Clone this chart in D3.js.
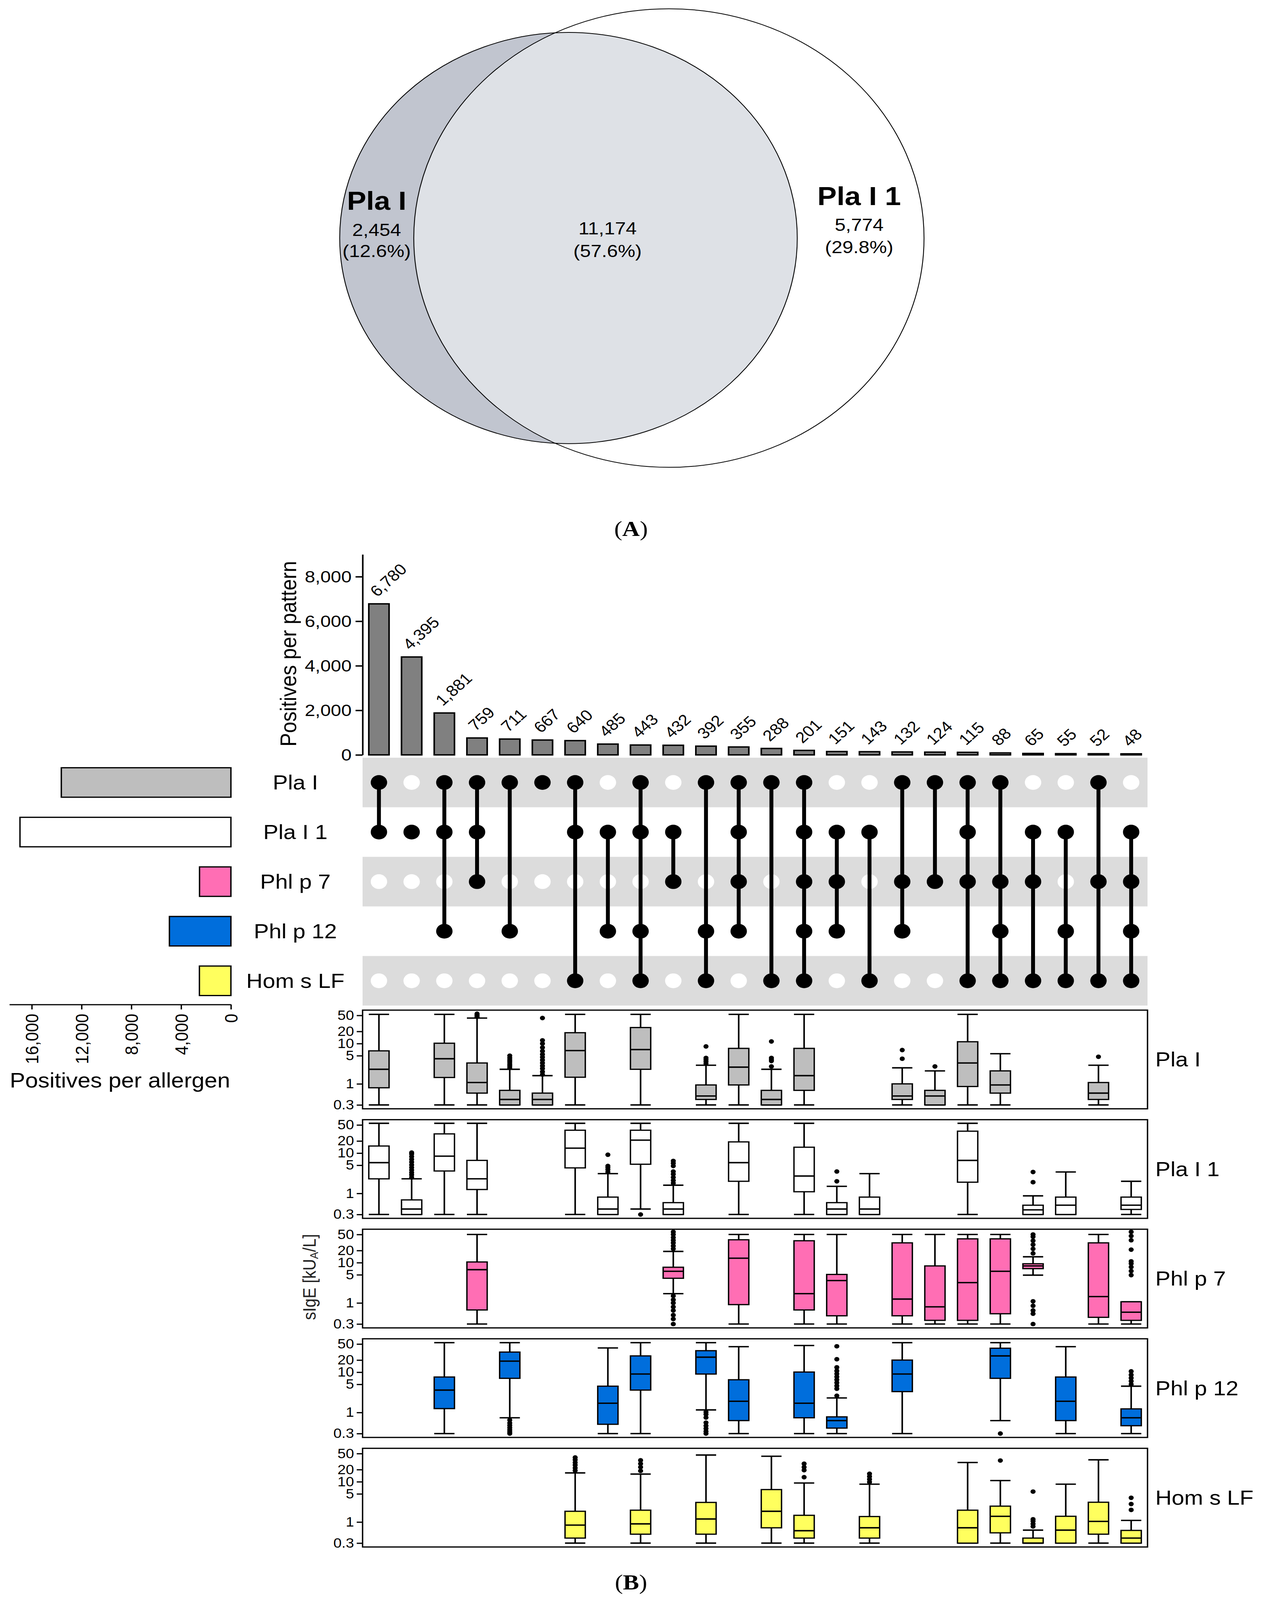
<!DOCTYPE html>
<html>
<head>
<meta charset="utf-8">
<script src="https://cdn.jsdelivr.net/npm/d3@7"></script>
<style>
  html, body { margin: 0; padding: 0; background: white; overflow: hidden; }
  #chart svg { display: block; }
</style>
</head>
<body>
<div id="chart"></div>
<script>
// ---------- data ----------
// Venn (A)
const vennNames = ["Pla I", "Pla I 1"];
const vennTotals = [13628, 16948];
const vennCounts = [2454, 11174, 5774]; // only Pla I, both, only Pla I 1
const vennPct = ["12.6%", "57.6%", "29.8%"];

// UpSet (B)
const sets = ["Pla I", "Pla I 1", "Phl p 7", "Phl p 12", "Hom s LF"];
const setSizes = [13628, 16948, 2522, 4942, 2530];
const setColours = ["#bebebe", "#ffffff", "#ff6eb4", "#006edc", "#ffff5e"];
const patternCounts = [6780, 4395, 1881, 759, 711, 667, 640, 485, 443, 432, 392, 355,
  288, 201, 151, 143, 132, 124, 115, 88, 65, 55, 52, 48];
// which sets (index into sets) make up each pattern
const patternSets = [[0, 1], [1], [0, 1, 3], [0, 1, 2], [0, 3], [0], [0, 1, 4], [1, 3],
  [0, 1, 3, 4], [1, 2], [0, 3, 4], [0, 1, 2, 3], [0, 4], [0, 1, 2, 3, 4], [1, 2, 3], [1, 4],
  [0, 2, 3], [0, 2], [0, 1, 2, 4], [0, 2, 3, 4], [1, 2, 4], [1, 3, 4], [0, 2, 4], [1, 2, 3, 4]];

const patternTicks = [0, 2000, 4000, 6000, 8000];
const sizeTicks = [0, 4000, 8000, 12000, 16000];
const sigeTicks = [0.3, 1, 5, 10, 20, 50];

// boxplots: [pattern no., low whisker, q1, median, q3, high whisker, outliers]
const boxPlaI = [
  [1, 0.3, 0.80, 2.3, 6.6, 53, []],
  [3, 0.3, 1.44, 4.2, 10.2, 53, []],
  [4, 0.3, 0.59, 1.08, 3.3, 43, [46, 49, 52, 55]],
  [5, 0.3, 0.3, 0.41, 0.69, 2.3, [2.5, 2.8, 3.1, 3.5, 3.9, 4.4, 5.0]],
  [6, 0.3, 0.3, 0.41, 0.59, 1.6, [1.7, 2.0, 2.4, 2.8, 3.3, 3.9, 4.6, 5.4, 6.5, 8, 10, 12, 43]],
  [7, 0.3, 1.46, 6.7, 18.6, 53, []],
  [9, 0.3, 2.3, 7.1, 25, 53, []],
  [11, 0.3, 0.41, 0.5, 0.94, 2.9, [3.2, 3.6, 4.0, 4.4, 8.5]],
  [12, 0.3, 0.94, 2.6, 7.6, 53, []],
  [13, 0.3, 0.3, 0.41, 0.69, 2.3, [2.7, 3.7, 4.0, 4.4, 11.3]],
  [14, 0.3, 0.69, 1.6, 7.6, 53, []],
  [17, 0.3, 0.41, 0.5, 1.0, 2.5, [4.2, 6.9]],
  [18, 0.3, 0.3, 0.5, 0.69, 2.1, [2.7]],
  [19, 0.3, 0.86, 3.3, 11.1, 53, []],
  [20, 0.3, 0.59, 0.94, 2.1, 5.6, []],
  [23, 0.3, 0.41, 0.59, 1.08, 2.9, [4.7]]
];
const boxPlaI1 = [
  [1, 0.3, 2.3, 5.8, 15, 55, []],
  [2, 0.3, 0.3, 0.41, 0.69, 2.3, [2.5, 2.9, 3.3, 3.8, 4.4, 5.1, 6, 7, 8.2, 9.5, 10.3]],
  [3, 0.3, 3.6, 8.4, 30, 55, []],
  [4, 0.3, 1.25, 2.3, 6.6, 55, []],
  [7, 0.3, 4.3, 13.3, 37, 55, []],
  [8, 0.3, 0.3, 0.41, 0.81, 3.1, [3.4, 3.9, 4.4, 4.8, 9.1]],
  [9, 0.41, 5.3, 21, 37, 55, [0.3]],
  [10, 0.3, 0.3, 0.41, 0.59, 1.6, [1.8, 2.1, 2.5, 3.0, 3.5, 4.8, 5.6, 6.4]],
  [12, 0.3, 2.0, 5.8, 19, 55, []],
  [14, 0.3, 1.1, 2.7, 14, 55, []],
  [15, 0.3, 0.3, 0.41, 0.59, 1.5, [2.0, 3.5]],
  [16, 0.3, 0.3, 0.41, 0.81, 3.1, []],
  [19, 0.3, 1.9, 6.6, 35, 55, []],
  [21, 0.3, 0.3, 0.39, 0.51, 0.87, [1.9, 3.4]],
  [22, 0.3, 0.3, 0.51, 0.81, 3.4, []],
  [24, 0.3, 0.4, 0.51, 0.81, 2.0, []]
];
const boxPhlp7 = [
  [4, 0.3, 0.67, 6.7, 10.4, 50, []],
  [10, 1.7, 4.1, 6.1, 7.7, 19, [22, 26, 31, 36, 42, 50, 58, 1.5, 1.2, 1.0, 0.8, 0.65, 0.5, 0.4, 0.3]],
  [12, 0.3, 0.91, 12.9, 37, 50, []],
  [14, 0.3, 0.67, 1.7, 35, 50, []],
  [15, 0.3, 0.48, 3.6, 5.1, 50, []],
  [17, 0.3, 0.48, 1.25, 31, 50, []],
  [18, 0.3, 0.37, 0.8, 8.3, 50, []],
  [19, 0.3, 0.37, 3.2, 39, 50, []],
  [20, 0.3, 0.54, 6.1, 39, 50, []],
  [21, 4.9, 7.1, 8.3, 9.4, 14, [17, 22, 28, 35, 44, 50, 1.1, 0.85, 0.65, 0.54, 0.3]],
  [23, 0.3, 0.44, 1.44, 31, 50, []],
  [24, 0.3, 0.37, 0.59, 1.07, 1.07, [4.9, 6.2, 7.8, 9.5, 10.8, 21, 36, 46, 58]]
];
const boxPhlp12 = [
  [3, 0.3, 1.25, 3.6, 7.6, 54, []],
  [5, 0.74, 7.05, 18.8, 31.6, 54, [0.65, 0.55, 0.48, 0.42, 0.37, 0.33, 0.3]],
  [8, 0.3, 0.51, 1.7, 4.5, 40, []],
  [9, 0.3, 3.6, 9.0, 25.4, 54, []],
  [11, 1.16, 9.0, 23.6, 34.2, 54, [1.03, 0.9, 0.75, 0.56, 0.47, 0.4, 0.34, 0.3]],
  [12, 0.3, 0.63, 1.9, 6.5, 43, []],
  [14, 0.3, 0.74, 1.7, 10.1, 46, []],
  [15, 0.3, 0.41, 0.63, 0.78, 2.3, [2.6, 3.9, 4.6, 5.5, 6.5, 7.7, 9.1, 10.8, 13.2, 21, 44]],
  [17, 0.3, 3.3, 9.0, 20, 54, []],
  [20, 0.63, 7.05, 25.4, 39.4, 54, [0.3]],
  [22, 0.3, 0.63, 1.9, 7.6, 43, []],
  [24, 0.3, 0.47, 0.74, 1.23, 4.5, [5.0, 6.0, 7.2, 8.6, 10.5]]
];
const boxHomsLF = [
  [7, 0.3, 0.4, 0.84, 1.85, 16.6, [19, 22, 26, 30, 35, 40]],
  [9, 0.3, 0.5, 0.9, 1.97, 15.5, [18.6, 23, 28, 34]],
  [11, 0.3, 0.5, 1.19, 3.07, 46, []],
  [13, 0.3, 0.72, 1.85, 6.4, 43, []],
  [14, 0.3, 0.4, 0.61, 1.47, 9.3, [13, 19.4, 23, 28]],
  [16, 0.3, 0.4, 0.72, 1.37, 8.7, [9.8, 11.5, 13.5, 15.8]],
  [19, 0.3, 0.3, 0.72, 1.97, 30, []],
  [20, 0.3, 0.54, 1.39, 2.48, 10.7, [33.6]],
  [21, 0.3, 0.3, 0.3, 0.4, 0.63, [0.78, 0.9, 1.05, 1.17, 5.7]],
  [22, 0.3, 0.3, 0.63, 1.39, 8.7, []],
  [23, 0.3, 0.5, 1.04, 3.1, 35, []],
  [24, 0.3, 0.3, 0.4, 0.62, 1.1, [2.0, 2.8, 4.0]]
];

// ---------- plot ----------
const W = 3230, H = 4557;
const FONT = "'Liberation Sans', Arial, Helvetica, sans-serif";
const fmt = d3.format(",");

// the real window can be shorter than asked for, so fit the figure into it
const vw = window.innerWidth || W;
const vh = window.innerHeight || H;

const svg = d3.select("#chart")
  .append("svg")
  .attr("width", vw)
  .attr("height", vh)
  .attr("viewBox", [0, 0, W, H])
  .attr("preserveAspectRatio", "none")
  .attr("font-family", FONT)
  .style("background", "white");

// ---- (A) venn ----
const rScale = d3.scaleSqrt().domain([0, d3.max(vennTotals)]).range([0, 653]);
const vx = [1455, 1712], vy = 678;

svg.append("defs").append("clipPath")
  .attr("id", "clipLeft")
  .append("circle")
  .attr("cx", vx[0]).attr("cy", vy).attr("r", rScale(vennTotals[0]));

svg.append("circle")
  .attr("cx", vx[0]).attr("cy", vy).attr("r", rScale(vennTotals[0]))
  .attr("fill", "#c1c5cf");
// overlap, lighter
svg.append("circle")
  .attr("cx", vx[1]).attr("cy", vy).attr("r", rScale(vennTotals[1]))
  .attr("fill", "#dee1e6")
  .attr("clip-path", "url(#clipLeft)");
svg.selectAll("circle.outline")
  .data(vennTotals)
  .join("circle")
  .attr("class", "outline")
  .attr("cx", (d, i) => vx[i]).attr("cy", vy)
  .attr("r", (d) => rScale(d))
  .attr("fill", "none")
  .attr("stroke", "black")
  .attr("stroke-width", 2.2);

// names
const nameX = [964, 2199], nameY = [597, 584];
svg.selectAll("text.vname")
  .data(vennNames)
  .join("text")
  .attr("class", "vname")
  .attr("x", (d, i) => nameX[i]).attr("y", (d, i) => nameY[i])
  .attr("text-anchor", "middle")
  .attr("font-size", 74)
  .attr("font-weight", "bold")
  .text((d) => d);

// counts + percents
const cntX = [964, 1555, 2199], cntY = [672, 667, 657];
const pctY = [732, 732, 721];
svg.selectAll("text.vcount")
  .data(vennCounts)
  .join("text")
  .attr("class", "vcount")
  .attr("x", (d, i) => cntX[i]).attr("y", (d, i) => cntY[i])
  .attr("text-anchor", "middle")
  .attr("font-size", 50)
  .text((d) => fmt(d));
svg.selectAll("text.vpct")
  .data(vennPct)
  .join("text")
  .attr("class", "vpct")
  .attr("x", (d, i) => cntX[i]).attr("y", (d, i) => pctY[i])
  .attr("text-anchor", "middle")
  .attr("font-size", 50)
  .text((d) => `(${d})`);

// panel letters
function panelLetter(letter, y) {
  const t = svg.append("text")
    .attr("x", 1615).attr("y", y)
    .attr("text-anchor", "middle")
    .attr("font-family", "'Liberation Serif', 'Times New Roman', serif")
    .attr("font-size", 62);
  t.append("tspan").text("(");
  t.append("tspan").attr("font-weight", "bold").text(letter);
  t.append("tspan").text(")");
}
panelLetter("A", 1526);
panelLetter("B", 4527);

// ---- (B) upset ----
const xb = d3.scaleBand()
  .domain(d3.range(patternCounts.length))
  .range([928, 2937])
  .paddingInner(0.38)
  .paddingOuter(0.19);
const bw = xb.bandwidth();
const xc = (i) => xb(i) + bw / 2;

// bars per pattern
const yBar = d3.scaleLinear().domain([0, 9000]).range([2150, 1579]);

svg.append("g")
  .selectAll("rect")
  .data(patternCounts)
  .join("rect")
  .attr("x", (d, i) => xb(i))
  .attr("y", (d) => yBar(d))
  .attr("width", bw)
  .attr("height", (d) => yBar(0) - yBar(d))
  .attr("fill", "#808080")
  .attr("stroke", "black")
  .attr("stroke-width", 4);

svg.append("g")
  .selectAll("text")
  .data(patternCounts)
  .join("text")
  .attr("transform", (d, i) => `translate(${xc(i) - 4},${yBar(d) - 18})rotate(-45)`)
  .attr("font-size", 44)
  .text((d) => fmt(d));

const barAxis = svg.append("g")
  .attr("transform", "translate(928,0)")
  .call(d3.axisLeft(yBar).tickValues(patternTicks).tickFormat(fmt).tickSize(18).tickSizeOuter(0).tickPadding(10));
barAxis.attr("font-size", 48).attr("font-family", FONT);
barAxis.selectAll("line, path").attr("stroke-width", 4);
barAxis.selectAll("text").attr("fill", "black");

svg.append("text")
  .attr("transform", "translate(738,1862)rotate(-90)")
  .attr("text-anchor", "middle")
  .attr("dominant-baseline", "central")
  .attr("font-size", 58)
  .text("Positives per pattern");

// matrix
const yRow = d3.scaleBand().domain(sets).range([2158, 2864]);
const rc = (s) => yRow(s) + yRow.step() / 2;

svg.append("g")
  .selectAll("rect")
  .data(sets.filter((d, i) => i % 2 === 0))
  .join("rect")
  .attr("x", 928).attr("width", 2937 - 928)
  .attr("y", (d) => yRow(d)).attr("height", yRow.step())
  .attr("fill", "#dcdcdc");

const dots = [];
patternSets.forEach((p, i) => {
  sets.forEach((s, j) => dots.push({ i: i, s: s, on: p.includes(j) }));
});
svg.append("g")
  .selectAll("circle")
  .data(dots)
  .join("circle")
  .attr("cx", (d) => xc(d.i))
  .attr("cy", (d) => rc(d.s))
  .attr("r", 21)
  .attr("fill", (d) => (d.on ? "black" : "white"));

svg.append("g")
  .selectAll("line")
  .data(patternSets.map((p, i) => ({ i: i, p: p })).filter((d) => d.p.length > 1))
  .join("line")
  .attr("x1", (d) => xc(d.i)).attr("x2", (d) => xc(d.i))
  .attr("y1", (d) => rc(sets[d3.min(d.p)]))
  .attr("y2", (d) => rc(sets[d3.max(d.p)]))
  .attr("stroke", "black")
  .attr("stroke-width", 10);

// set labels
svg.append("g")
  .selectAll("text")
  .data(sets)
  .join("text")
  .attr("x", 756).attr("y", (d) => rc(d))
  .attr("text-anchor", "middle")
  .attr("dominant-baseline", "central")
  .attr("font-size", 58)
  .text((d) => d);

// set size bars
const xSize = d3.scaleLinear().domain([0, 17800]).range([591, 24]);
svg.append("g")
  .selectAll("rect")
  .data(setSizes)
  .join("rect")
  .attr("x", (d) => xSize(d))
  .attr("width", (d) => xSize(0) - xSize(d))
  .attr("y", (d, i) => rc(sets[i]) - 42)
  .attr("height", 84)
  .attr("fill", (d, i) => setColours[i])
  .attr("stroke", "black")
  .attr("stroke-width", 3.5);

const sizeAxis = svg.append("g")
  .attr("transform", "translate(0,2861)")
  .call(d3.axisBottom(xSize).tickValues(sizeTicks).tickFormat(fmt).tickSize(14).tickSizeOuter(0));
sizeAxis.attr("font-size", 47).attr("font-family", FONT);
sizeAxis.selectAll("line, path").attr("stroke-width", 3.5);
sizeAxis.selectAll(".tick text")
  .attr("fill", "black")
  .attr("transform", "rotate(-90)")
  .attr("text-anchor", "end")
  .attr("x", -26).attr("y", 0).attr("dy", "0.35em");

svg.append("text")
  .attr("x", 307).attr("y", 3097)
  .attr("text-anchor", "middle")
  .attr("font-size", 59)
  .text("Positives per allergen");

// boxplot panels
const boxData = [boxPlaI, boxPlaI1, boxPhlp7, boxPhlp12, boxHomsLF];
const panelH = 281;

boxData.forEach((rows, k) => {
  const top = 2877 + k * 312;
  const y = d3.scaleLog().domain([0.3, 50]).range([top + 270, top + 15]);
  const g = svg.append("g");
  const col = setColours[k];

  const ax = g.append("g")
    .attr("transform", "translate(928,0)")
    .call(d3.axisLeft(y).tickValues(sigeTicks).tickFormat((d) => d).tickSize(15).tickPadding(7));
  ax.select(".domain").remove();
  ax.attr("font-size", 38).attr("font-family", FONT);
  ax.selectAll("line").attr("stroke-width", 3.5);
  ax.selectAll("text").attr("fill", "black");

  const b = g.selectAll("g.box")
    .data(rows)
    .join("g")
    .attr("class", "box")
    .attr("transform", (d) => `translate(${xc(d[0] - 1)},0)`);

  // whiskers
  b.append("line")
    .attr("y1", (d) => y(d[1])).attr("y2", (d) => y(d[5]))
    .attr("stroke", "black").attr("stroke-width", 4);
  b.append("line")
    .attr("x1", -bw / 2).attr("x2", bw / 2)
    .attr("y1", (d) => y(d[1])).attr("y2", (d) => y(d[1]))
    .attr("stroke", "black").attr("stroke-width", 4);
  b.append("line")
    .attr("x1", -bw / 2).attr("x2", bw / 2)
    .attr("y1", (d) => y(d[5])).attr("y2", (d) => y(d[5]))
    .attr("stroke", "black").attr("stroke-width", 4);
  // box
  b.append("rect")
    .attr("x", -bw / 2).attr("width", bw)
    .attr("y", (d) => y(d[4]))
    .attr("height", (d) => Math.max(1, y(d[2]) - y(d[4])))
    .attr("fill", col)
    .attr("stroke", "black").attr("stroke-width", 3.5);
  b.append("line")
    .attr("x1", -bw / 2).attr("x2", bw / 2)
    .attr("y1", (d) => y(d[3])).attr("y2", (d) => y(d[3]))
    .attr("stroke", "black").attr("stroke-width", 4);
  // outliers
  b.selectAll("circle")
    .data((d) => d[6])
    .join("circle")
    .attr("cy", (d) => y(d))
    .attr("r", 6.5)
    .attr("fill", "black");

  // frame
  g.append("rect")
    .attr("x", 928).attr("y", top)
    .attr("width", 2937 - 928).attr("height", panelH)
    .attr("fill", "none")
    .attr("stroke", "black").attr("stroke-width", 3.5);

  g.append("text")
    .attr("x", 2957).attr("y", top + panelH / 2)
    .attr("dominant-baseline", "central")
    .attr("font-size", 58)
    .text(sets[k]);
});

// y label for the boxplots
const yl = svg.append("text")
  .attr("transform", "translate(791,3637)rotate(-90)")
  .attr("text-anchor", "middle")
  .attr("dominant-baseline", "central")
  .attr("font-size", 46)
  .attr("fill", "#222");
yl.append("tspan").text("sIgE [kU");
yl.append("tspan").attr("font-size", 30).attr("dy", 12).text("A");
yl.append("tspan").attr("dy", -12).text("/L]");
</script>
</body>
</html>
